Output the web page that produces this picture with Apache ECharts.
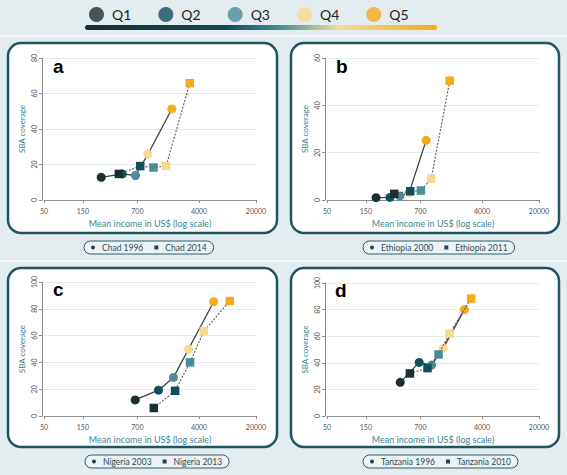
<!DOCTYPE html>
<html>
<head>
<meta charset="utf-8">
<script src="https://cdn.jsdelivr.net/npm/echarts@6/dist/echarts.min.js"></script>
<style>
html,body{margin:0;padding:0;background:#e3ecee;}
#chart{width:567px;height:475px;}
</style>
</head>
<body>
<div id="chart"></div>
<script>
// ---------- data ----------
const quintiles = ['Q1', 'Q2', 'Q3', 'Q4', 'Q5'];
const xTickValues = [50, 150, 700, 4000, 20000];
const yMaxA = 80, yMaxB = 60, yMaxC = 100, yMaxD = 100;

const chadIncome1996 = [252, 456, 664, 942, 1854];
const chadSBA1996    = [12.8, 14.7, 13.8, 25.8, 51.3];
const chadIncome2014 = [415, 759, 1104, 1578, 3076];
const chadSBA2014    = [14.7, 19.1, 18.3, 19.2, 65.8];

const ethIncome2000 = [200, 296, 393, 510, 824];
const ethSBA2000    = [1.0, 1.1, 1.7, 3.1, 25.2];
const ethIncome2011 = [334, 525, 710, 950, 1607];
const ethSBA2011    = [2.6, 3.7, 4.0, 9.0, 50.4];

const nigIncome2003 = [658, 1271, 1941, 2964, 6055];
const nigSBA2003    = [12.0, 19.3, 28.8, 49.8, 85.3];
const nigIncome2013 = [1114, 2033, 3105, 4571, 9515];
const nigSBA2013    = [6.0, 18.8, 40.0, 63.3, 85.8];

const tanIncome1996 = [396, 677, 960, 1334, 2433];
const tanSBA1996    = [25.3, 40.3, 38.3, 51.0, 80.0];
const tanIncome2010 = [520, 857, 1169, 1596, 2939];
const tanSBA2010    = [32.0, 36.0, 46.3, 62.0, 88.3];

// ---------- styling ----------
const qColors = ['#1a2f34', '#0e4f5c', '#4a8d97', '#f9d98f', '#f5aa1c'];
const lg = v => Math.log10(v);

const panels = [
  {grid: {left: 44, top: 58, width: 212, height: 142}, yMax: yMaxA,
   s1: {name: 'Chad 1996', x: chadIncome1996, y: chadSBA1996},
   s2: {name: 'Chad 2014', x: chadIncome2014, y: chadSBA2014},
   letter: 'a', lx: 53, ly: 66, box: [8, 43, 269, 190], leg: [84, 241]},
  {grid: {left: 327, top: 58, width: 212, height: 142}, yMax: yMaxB,
   s1: {name: 'Ethiopia 2000', x: ethIncome2000, y: ethSBA2000},
   s2: {name: 'Ethiopia 2011', x: ethIncome2011, y: ethSBA2011},
   letter: 'b', lx: 336, ly: 66, box: [291, 43, 268, 190], leg: [363, 241]},
  {grid: {left: 44, top: 282, width: 212, height: 134}, yMax: yMaxC,
   s1: {name: 'Nigeria 2003', x: nigIncome2003, y: nigSBA2003},
   s2: {name: 'Nigeria 2013', x: nigIncome2013, y: nigSBA2013},
   letter: 'c', lx: 53, ly: 289, box: [8, 268, 269, 179], leg: [85, 455]},
  {grid: {left: 327, top: 283, width: 212, height: 133}, yMax: yMaxD,
   s1: {name: 'Tanzania 1996', x: tanIncome1996, y: tanSBA1996},
   s2: {name: 'Tanzania 2010', x: tanIncome2010, y: tanSBA2010},
   letter: 'd', lx: 335, ly: 290, box: [291, 268, 268, 179], leg: [363, 455]}
];

function pts(xs, ys) {
  return xs.map((x, i) => ({value: [lg(x), ys[i]], itemStyle: {color: qColors[i]}}));
}

const grids = [], xAxes = [], yAxes = [], series = [], legends = [], graphics = [];

legends.push({
  data: quintiles.map((q, i) => ({name: q, icon: 'circle', itemStyle: {color: qColors[i]}})),
  left: 84, top: 2, itemWidth: 15, itemHeight: 15, itemGap: 27,
  selectedMode: false,
  textStyle: {fontSize: 14, color: '#222', fontFamily: 'Lato', padding: [0, 0, 0, 3]}
});
quintiles.forEach((q, i) => series.push({
  type: 'scatter', name: q, data: [], xAxisIndex: 0, yAxisIndex: 0,
  itemStyle: {color: qColors[i]}
}));

graphics.push({type: 'rect', shape: {x: 0, y: 35, width: 567, height: 2}, style: {fill: '#f3f7f8'}, z: -20});
graphics.push({type: 'rect', shape: {x: 0, y: 260, width: 567, height: 2}, style: {fill: '#f3f7f8'}, z: -20});
graphics.push({
  type: 'rect', shape: {x: 85, y: 25, width: 352, height: 5, r: 2.5}, z: -5,
  style: {fill: new echarts.graphic.LinearGradient(0, 0, 1, 0, [
    {offset: 0, color: '#1a2e33'}, {offset: 0.4, color: '#0f4b57'},
    {offset: 0.56, color: '#4d8f97'}, {offset: 0.72, color: '#f3dc9c'},
    {offset: 1, color: '#f4ab18'}])}
});

panels.forEach((p, k) => {
  grids.push(p.grid);
  xAxes.push({
    gridIndex: k, type: 'value', min: lg(50), max: lg(20000), offset: 4,
    axisLine: {show: true, lineStyle: {color: '#8c8c8c', width: 1}},
    axisTick: {show: true, customValues: xTickValues.map(lg), length: 3, lineStyle: {color: '#8c8c8c'}},
    axisLabel: {customValues: xTickValues.map(lg), formatter: v => String(Math.round(Math.pow(10, v))),
      fontSize: 7, color: '#555', margin: 3, fontFamily: 'Lato'},
    splitLine: {show: false},
    name: 'Mean income in US$ (log scale)', nameLocation: 'middle', nameGap: 15,
    nameTextStyle: {color: '#3b8490', fontSize: 9, fontFamily: 'Lato'}
  });
  yAxes.push({
    gridIndex: k, type: 'value', min: 0, max: p.yMax, interval: 20, offset: 2,
    axisLine: {show: true, lineStyle: {color: '#8c8c8c', width: 1}},
    axisTick: {show: true, length: 3, lineStyle: {color: '#8c8c8c'}},
    axisLabel: {rotate: 90, fontSize: 7, color: '#555', margin: 5, fontFamily: 'Lato'},
    splitLine: {show: true, lineStyle: {color: '#e3ebf2', width: 1}},
    name: 'SBA coverage', nameLocation: 'middle', nameGap: 16,
    nameTextStyle: {color: '#3b8490', fontSize: 8, fontFamily: 'Lato'}
  });
  series.push({
    type: 'line', name: p.s1.name, xAxisIndex: k, yAxisIndex: k,
    data: pts(p.s1.x, p.s1.y), symbol: 'circle', symbolSize: 9,
    lineStyle: {color: '#3d3d3d', width: 1.3}, itemStyle: {color: '#1f4550'}, z: 3
  });
  series.push({
    type: 'line', name: p.s2.name, xAxisIndex: k, yAxisIndex: k,
    data: pts(p.s2.x, p.s2.y), symbol: 'rect', symbolSize: 8.5,
    lineStyle: {color: '#5a5a5a', width: 1.1, type: [2, 1.5]}, itemStyle: {color: '#1f4550'}, z: 4
  });
  legends.push({
    data: [{name: p.s1.name, icon: 'circle', itemStyle: {color: '#1f4550'}},
           {name: p.s2.name, icon: 'rect', itemStyle: {color: '#1f4550'}}],
    left: p.leg[0], top: p.leg[1], itemWidth: 4, itemHeight: 4, itemGap: 11,
    padding: [2, 7, 2, 7], borderColor: '#2b5c67', borderWidth: 1, borderRadius: 7,
    backgroundColor: 'rgba(255,255,255,0.35)', selectedMode: false,
    textStyle: {fontSize: 8.5, color: '#2c4b55', fontFamily: 'Lato', padding: [0, 0, 0, 2]}
  });
  graphics.push({
    type: 'rect', z: -10,
    shape: {x: p.box[0], y: p.box[1], width: p.box[2], height: p.box[3], r: 13},
    style: {fill: '#ffffff', stroke: '#1f5563', lineWidth: 2.5}
  });
  graphics.push({
    type: 'text', x: p.lx, y: p.ly, z: 5,
    style: {text: p.letter, font: 'bold 19px "Liberation Sans", Arial', fill: '#000', verticalAlign: 'middle'}
  });
});

const chart = echarts.init(document.getElementById('chart'), null, {renderer: 'svg'});
chart.setOption({
  backgroundColor: '#e3ecee',
  animation: false,
  textStyle: {fontFamily: 'Lato'},
  grid: grids, xAxis: xAxes, yAxis: yAxes, series: series, legend: legends,
  graphic: graphics
});
</script>
</body>
</html>
